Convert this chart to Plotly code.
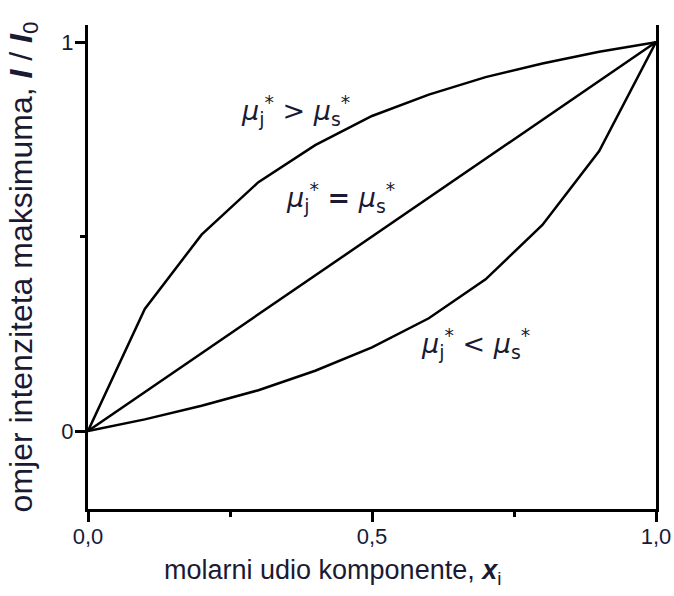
import plotly.graph_objects as go

x_frac = [0.0, 0.1, 0.2, 0.3, 0.4, 0.5, 0.6, 0.7, 0.8, 0.9, 1.0]
ratio_greater = [0.0, 0.314, 0.505, 0.64, 0.735, 0.81, 0.865, 0.91, 0.945, 0.975, 1.0]
ratio_equal = [0.0, 0.1, 0.2, 0.3, 0.4, 0.5, 0.6, 0.7, 0.8, 0.9, 1.0]
ratio_less = [0.0, 0.03, 0.065, 0.105, 0.155, 0.215, 0.29, 0.39, 0.53, 0.72, 1.0]

x_tick_vals = [0.0, 0.5, 1.0]
x_tick_text = ["0,0", "0,5", "1,0"]
x_minor_vals = [0.25, 0.75]
y_tick_vals = [0.0, 1.0]
y_tick_text = ["0", "1"]
y_minor_vals = [0.5]

x_title = "molarni udio komponente, <b><i>x</i></b><sub>i</sub>"
y_title = "omjer intenziteta maksimuma, <b><i>I</i></b> / <b><i>I</i></b><sub>0</sub>"

labels = [
    ("<i>μ</i><sub>j</sub><sup>*</sup> > <i>μ</i><sub>s</sub><sup>*</sup>", 0.366, 0.825),
    ("<i>μ</i><sub>j</sub><sup>*</sup> <b>=</b> <i>μ</i><sub>s</sub><sup>*</sup>", 0.445, 0.60),
    ("<i>μ</i><sub>j</sub><sup>*</sup> < <i>μ</i><sub>s</sub><sup>*</sup>", 0.683, 0.226),
]

fig = go.Figure()
for ys in (ratio_greater, ratio_equal, ratio_less):
    fig.add_trace(go.Scatter(x=x_frac, y=ys, mode="lines",
                             line=dict(color="black", width=2.5),
                             showlegend=False, hoverinfo="skip"))

for text, lx, ly in labels:
    fig.add_annotation(x=lx, y=ly, text=text, showarrow=False,
                       font=dict(family="DejaVu Sans", size=27, color="#1a1a33"))

fig.add_annotation(xref="paper", yref="paper", x=0.43, y=-0.13,
                   xanchor="center", yanchor="middle", showarrow=False,
                   text=x_title,
                   font=dict(family="Liberation Sans, Arial", size=27, color="#1a1a33"))

axis_font = dict(family="Liberation Sans, Arial", size=22, color="#1a1a33")

fig.update_layout(
    width=674, height=596,
    margin=dict(l=88, r=18, t=25, b=87),
    paper_bgcolor="white", plot_bgcolor="white",
    xaxis=dict(range=[0, 1], tickvals=x_tick_vals, ticktext=x_tick_text,
               ticks="outside", ticklen=10, tickwidth=3, tickcolor="black",
               minor=dict(tickvals=x_minor_vals, ticks="outside", ticklen=5,
                          tickwidth=3, tickcolor="black", showgrid=False),
               showline=True, linewidth=3, linecolor="black",
               showgrid=False, zeroline=False, tickfont=axis_font,
               ticklabelstandoff=-4, automargin=False),
    yaxis=dict(range=[-0.2005, 1.044], tickvals=y_tick_vals, ticktext=y_tick_text,
               ticks="outside", ticklen=10, tickwidth=3, tickcolor="black",
               minor=dict(tickvals=y_minor_vals, ticks="outside", ticklen=5,
                          tickwidth=3, tickcolor="black", showgrid=False),
               showline=True, linewidth=3, linecolor="black", mirror=True,
               showgrid=False, zeroline=False, tickfont=axis_font,
               ticklabelstandoff=-3, automargin=False,
               title=dict(text=y_title,
                          font=dict(family="Liberation Sans, Arial", size=32, color="#1a1a33"),
                          standoff=20)),
)

fig.write_html("out.html", config={"displayModeBar": False},
               post_script="document.body.style.margin='0';")
